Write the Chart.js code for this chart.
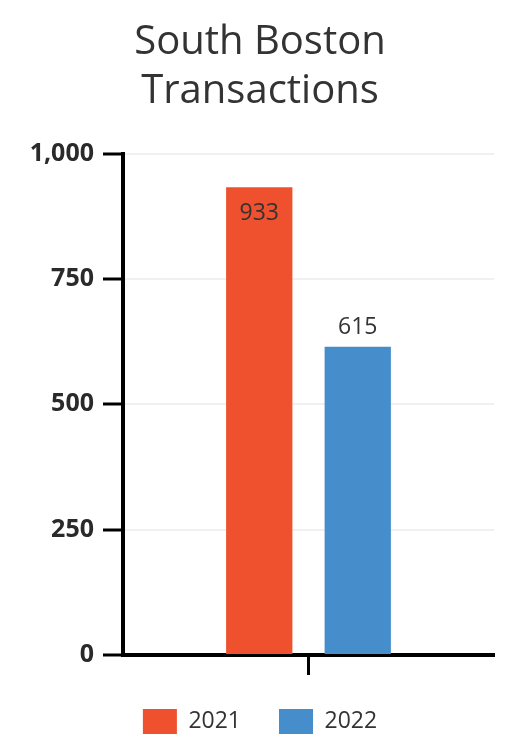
<!DOCTYPE html>
<html>
<head>
<meta charset="utf-8">
<script src="https://cdn.jsdelivr.net/npm/chart.js@4"></script>
<style>
  html, body { margin: 0; padding: 0; background: #fff; }
  #wrap { width: 520px; height: 754px; }
</style>
</head>
<body>
<div id="wrap"><canvas id="chart"></canvas></div>
<script>
// dados
const categorias = [''];
const anos = ['2021', '2022'];
const transacoes = [[933], [615]];
const cores = ['#EF502D', '#468DCC'];
const titulo = ['South Boston', 'Transactions'];

// rótulos de valor em cima das barras (dentro quando não cabe acima)
const valorLabels = {
    id: 'valorLabels',
    afterDatasetsDraw(chart) {
        const ctx = chart.ctx;
        ctx.save();
        ctx.font = '23px "Open Sans"';
        ctx.fillStyle = '#333';
        ctx.textAlign = 'center';
        ctx.textBaseline = 'middle';
        chart.data.datasets.forEach((ds, i) => {
            chart.getDatasetMeta(i).data.forEach((bar, j) => {
                const v = ds.data[j];
                const dentro = bar.y - chart.chartArea.top < 60;
                const y = dentro ? bar.y + 26 : bar.y - 19;
                ctx.fillText(v.toLocaleString('en-US'), bar.x, y);
            });
        });
        ctx.restore();
    }
};

new Chart(document.getElementById('chart'), {
    type: 'bar',
    data: {
        labels: categorias,
        datasets: anos.map((a, i) => ({
            label: a,
            data: transacoes[i],
            backgroundColor: cores[i],
            barPercentage: 0.673,
            categoryPercentage: 0.531
        }))
    },
    options: {
        responsive: true,
        maintainAspectRatio: false,
        animation: false,
        layout: { padding: { left: 26, right: 26, top: 0, bottom: 10 } },
        plugins: {
            title: {
                display: true,
                text: titulo,
                color: '#333',
                font: { family: 'Open Sans', size: 40, weight: 'normal', lineHeight: 1.22 },
                padding: { top: 18, bottom: 38 }
            },
            legend: {
                position: 'bottom',
                labels: {
                    boxWidth: 34,
                    boxHeight: 25,
                    padding: 38,
                    color: '#333',
                    font: { family: 'Open Sans', size: 23 }
                }
            },
            tooltip: { enabled: false }
        },
        scales: {
            x: {
                border: { display: true, color: '#000', width: 4 },
                grid: { offset: false, drawOnChartArea: false, tickLength: 20, tickColor: '#000', tickWidth: 3 },
                ticks: { display: false },
                afterFit: s => { s.height -= 4; }
            },
            y: {
                min: 0,
                max: 1000,
                border: { display: true, color: '#000', width: 4 },
                grid: { color: '#f0f0f0', tickLength: 20, tickColor: '#000', tickWidth: 3, lineWidth: 2 },
                ticks: {
                    stepSize: 250,
                    padding: 9,
                    color: '#2a2a2a',
                    font: { family: 'Open Sans', size: 25, weight: 'bold' },
                    callback: v => v.toLocaleString('en-US')
                },
                afterFit: s => { s.width = 97; }
            }
        }
    },
    plugins: [valorLabels]
});
</script>
</body>
</html>
